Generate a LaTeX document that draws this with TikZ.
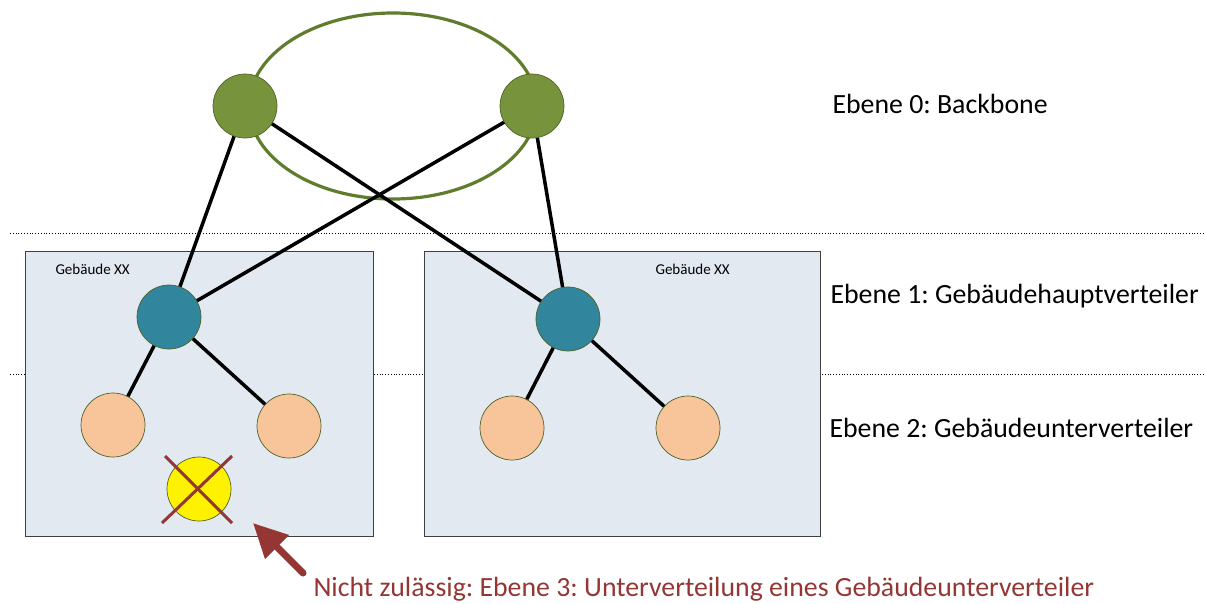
\documentclass[tikz,border=0pt]{standalone}
\usepackage{fontspec}
\setmainfont{Carlito}
\usepackage{xcolor}
\usetikzlibrary{arrows.meta}
\frenchspacing

\definecolor{bbgreen}{HTML}{77933C}
\definecolor{ringgreen}{HTML}{5F7D2D}
\definecolor{edgegreen}{HTML}{4F6228}
\definecolor{ghvteal}{HTML}{31859C}
\definecolor{guvpeach}{HTML}{F8C49A}
\definecolor{boxfill}{HTML}{E2E9F1}
\definecolor{warnred}{HTML}{943634}

\begin{document}
\begin{tikzpicture}[x=1pt, y=-1pt,
		knoten/.style={circle, minimum size=64pt, inner sep=0pt, draw=edgegreen, line width=0.7pt},
		link/.style={line width=3.5pt, black},
		ebene/.style={anchor=base west, font=\fontsize{27.8}{33}\selectfont}]
		\useasboundingbox (0,0) rectangle (1205,603);
		
		% Ebenen-Trennlinien
		\begin{scope}[dotted, line width=0.8pt]
			\draw (10,233) -- (1205,233);
			\draw (10,374) -- (1205,374);
		\end{scope}
		
		% Gebaeude
		\draw[fill=boxfill, draw=black!75, line width=1pt] (25,251) rectangle (373,536);
		\draw[fill=boxfill, draw=black!75, line width=1pt] (424,251) rectangle (820,536);
		\node[anchor=base west, font=\fontsize{15}{18}\selectfont] (geb1) at (52,274) {Gebäude XX};
		\node[anchor=base west, font=\fontsize{15}{18}\selectfont] (geb2) at (652,274) {Gebäude XX};
		
		% Backbone-Ring
		\draw[ringgreen, line width=3.2pt] (393,106) ellipse [x radius=144, y radius=93];
		
		\node[knoten, fill=bbgreen] (bb1) at (245,106) {};
		\node[knoten, fill=bbgreen] (bb2) at (532,106) {};
		
		\node[knoten, fill=ghvteal] (ghv1) at (169,317) {};
		\node[knoten, fill=ghvteal] (ghv2) at (568,319) {};
		
		\node[knoten, fill=guvpeach] (guv1) at (113,425) {};
		\node[knoten, fill=guvpeach] (guv2) at (289,426) {};
		\node[knoten, fill=guvpeach] (guv3) at (512,428) {};
		\node[knoten, fill=guvpeach] (guv4) at (688,428) {};
		
		\node[knoten, fill=yellow] (uv) at (199,489) {};
		
		% Verbindungen
		\draw[link] (bb1) -- (ghv1);
		\draw[link] (bb1) -- (ghv2);
		\draw[link] (bb2) -- (ghv1);
		\draw[link] (bb2) -- (ghv2);
		\draw[link] (ghv1) -- (guv1);
		\draw[link] (ghv1) -- (guv2);
		\draw[link] (ghv2) -- (guv3);
		\draw[link] (ghv2) -- (guv4);
		
		% nicht zulaessig
		\begin{scope}[warnred, line width=3pt]
			\draw (uv.center) ++(-34,-33) -- ++(67,67);
			\draw (uv.center) ++(33,-33) -- ++(-70,67);
		\end{scope}
		
		\coordinate (pfeil) at (303,573);
		\coordinate (spitze) at (253,523);
		\draw[warnred, line width=7pt, line cap=round, -{Triangle[length=34pt, width=32pt]}] (pfeil) -- (spitze);
		
		\node[ebene, text=warnred] (hinweis) at (310,596) {Nicht zulässig: Ebene 3: Unterverteilung eines Gebäudeunterverteiler};
		
		% Ebenen
		\node[ebene] (e0) at (829,113) {Ebene 0: Backbone};
		\node[ebene] (e1) at (827,303) {Ebene 1: Gebäudehauptverteiler};
		\node[ebene] (e2) at (826,437) {Ebene 2: Gebäudeunterverteiler};
	\end{tikzpicture}
\end{document}
